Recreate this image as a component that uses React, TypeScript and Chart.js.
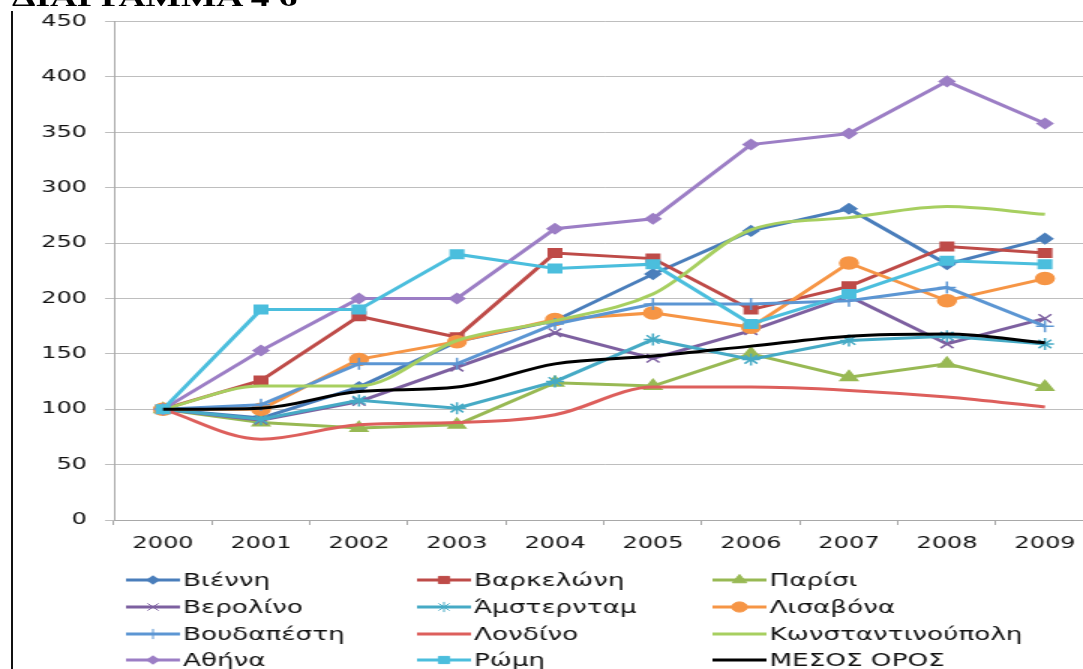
import React, { useEffect, useRef } from 'react';
import { Chart, registerables } from 'chart.js';
import { drawPoint } from 'chart.js/helpers';

Chart.register(...registerables);

// ---------- data ----------
const years = ['2000', '2001', '2002', '2003', '2004', '2005', '2006', '2007', '2008', '2009'];
const yTicks = [0, 50, 100, 150, 200, 250, 300, 350, 400, 450];

const seriesNames = [
  'Βιέννη', 'Βαρκελώνη', 'Παρίσι',
  'Βερολίνο', 'Άμστερνταμ', 'Λισαβόνα',
  'Βουδαπέστη', 'Λονδίνο', 'Κωνσταντινούπολη',
  'Αθήνα', 'Ρώμη', 'ΜΕΣΟΣ ΟΡΟΣ',
];

const vienna = [100, 92, 120, 161, 180, 222, 261, 281, 231, 254];
const barcelona = [100, 126, 184, 165, 241, 236, 190, 211, 247, 241];
const paris = [100, 88, 83, 86, 124, 121, 150, 129, 141, 120];
const berlin = [100, 90, 107, 138, 169, 146, 171, 202, 159, 182];
const amsterdam = [100, 91, 108, 101, 125, 163, 145, 162, 166, 159];
const lisbon = [100, 100, 145, 161, 181, 187, 174, 232, 198, 218];
const budapest = [100, 104, 141, 141, 177, 195, 195, 198, 210, 175];
const london = [100, 73, 86, 88, 95, 120, 120, 117, 111, 102];
const istanbul = [100, 121, 121, 162, 180, 204, 262, 273, 283, 276];
const athens = [100, 153, 200, 200, 263, 272, 339, 349, 396, 358];
const rome = [100, 190, 190, 240, 227, 231, 177, 204, 234, 231];
const average = [100, 101, 116, 120, 141, 148, 157, 166, 168, 160];

const seriesValues = [
  vienna, barcelona, paris,
  berlin, amsterdam, lisbon,
  budapest, london, istanbul,
  athens, rome, average,
];

// ---------- styles ----------
const colors = [
  '#4A7EBB', '#BE4B48', '#98B954',
  '#7D60A0', '#46AAC5', '#F69545',
  '#5C96D3', '#DD5F5C', '#A7CF60',
  '#9C7EC5', '#4BBEDD', '#000000',
];
const pointStyles: (string | false)[] = [
  'rectRot', 'rect', 'triangle',
  'crossRot', 'star', 'circle',
  'cross', false, false,
  'rectRot', 'rect', false,
];
const pointRadii = [
  5, 6, 6.5,
  6, 6, 6,
  6, 0, 0,
  5, 6, 0,
];
const smooth = [
  false, false, false,
  false, false, false,
  false, true, true,
  false, false, true,
];

const SX = 1.5; // horizontal stretch of the whole picture
const W = 740;  // internal canvas width
const H = 669;
const FONT = "'DejaVu Sans', Verdana, sans-serif";
const gridColor = '#BEBEBE';
const axisColor = '#A8A8A8';

const legendCols = [84, 278, 475];
const legendRows = [580, 607, 634, 660];

const legendPlugin = {
  id: 'excelLegend',
  afterDraw(chart: any) {
    const ctx = chart.ctx;
    chart.data.datasets.forEach((ds: any, i: number) => {
      const x0 = legendCols[i % 3];
      const y = legendRows[Math.floor(i / 3)];
      ctx.save();
      ctx.strokeStyle = ds.borderColor;
      ctx.fillStyle = ds.borderColor;
      ctx.lineWidth = 3;
      ctx.beginPath();
      ctx.moveTo(x0, y);
      ctx.lineTo(x0 + 36, y);
      ctx.stroke();
      if (ds.pointStyle) {
        ctx.lineWidth = 1;
        drawPoint(ctx, { pointStyle: ds.pointStyle, rotation: 0, radius: ds.pointRadius * 0.85, borderWidth: 1.5 }, x0 + 18, y);
      }
      ctx.fillStyle = '#111111';
      ctx.font = `17.5px ${FONT}`;
      ctx.textBaseline = 'middle';
      ctx.textAlign = 'left';
      ctx.fillText(ds.label, x0 + 38, y + 1);
      ctx.restore();
    });
  },
};

export default function App() {
  const ref = useRef<HTMLCanvasElement>(null);

  useEffect(() => {
    if (!ref.current) return;
    const datasets = seriesNames.map((name, i) => ({
      label: name,
      data: seriesValues[i],
      borderColor: colors[i],
      backgroundColor: colors[i],
      pointBackgroundColor: colors[i],
      pointBorderColor: colors[i],
      borderWidth: 3,
      pointStyle: pointStyles[i],
      pointRadius: pointRadii[i],
      pointBorderWidth: 1.5,
      cubicInterpolationMode: smooth[i] ? 'monotone' : 'default',
      tension: 0,
      order: seriesNames.length - 1 - i,
      fill: false,
    }));

    const chart = new Chart(ref.current, {
      type: 'line',
      data: { labels: years, datasets },
      options: {
        responsive: false,
        animation: false,
        devicePixelRatio: 1,
        layout: { padding: { left: 0, right: W - 729.3, top: 19, bottom: 109 } },
        plugins: { legend: { display: false }, tooltip: { enabled: false }, title: { display: false } },
        scales: {
          x: {
            offset: true,
            grid: { offset: true, drawOnChartArea: false, drawTicks: true, tickLength: 5, color: axisColor },
            border: { display: true, color: axisColor, width: 1 },
            ticks: { font: { family: FONT, size: 16 }, color: '#111111', padding: 9, maxRotation: 0, autoSkip: false },
            afterFit: (s: any) => { s.height = 40; },
          },
          y: {
            min: 0,
            max: 450,
            afterBuildTicks: (s: any) => { s.ticks = yTicks.map((v) => ({ value: v })); },
            grid: { color: gridColor, tickLength: 6, lineWidth: 1 },
            border: { display: true, color: axisColor, width: 1 },
            ticks: { font: { family: FONT, size: 16 }, color: '#111111', padding: 12 },
            afterFit: (s: any) => { s.width = 76; },
          },
        },
      },
      plugins: [legendPlugin],
    } as any);
    return () => chart.destroy();
  }, []);

  return (
    <div style={{ position: 'absolute', left: 0, top: 0, width: 1083, height: 669, overflow: 'hidden', background: '#fff' }}>
      <canvas
        ref={ref}
        width={W}
        height={H}
        style={{ position: 'absolute', left: 0, top: 0, width: W * SX + 'px', height: H + 'px' }}
      />
      <div
        style={{
          position: 'absolute', left: 12, top: -15, fontFamily: "'Liberation Serif', serif", fontWeight: 'bold',
          fontSize: 25, lineHeight: '25px', whiteSpace: 'nowrap', transform: `scaleX(${SX})`, transformOrigin: 'left top', color: '#000',
        }}
      >
        ΔΙΑΓΡΑΜΜΑ 4 6
      </div>
      <div style={{ position: 'absolute', left: 11, top: 11, width: 2, height: 660, background: '#111' }} />
    </div>
  );
}
